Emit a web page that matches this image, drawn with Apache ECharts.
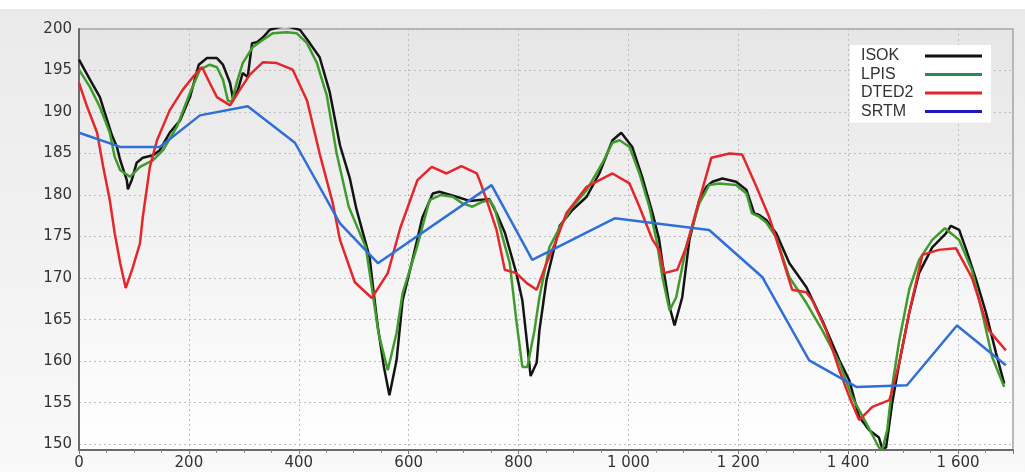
<!DOCTYPE html>
<html>
<head>
<meta charset="utf-8">
<script src="https://cdn.jsdelivr.net/npm/echarts@6/dist/echarts.min.js"></script>
<style>
html, body { margin: 0; padding: 0; }
#wrap {
    width: 1025px; height: 472px;
    background: linear-gradient(#fff 0, #fff 9px, #eaeaea 9px, #f2f2f2 55%, #f9f9f9 100%);
}
#chart { width: 1025px; height: 472px; }
</style>
</head>
<body>
<div id="wrap"><div id="chart"></div></div>
<script>
// profile distance (x) and height (y) per source
let isokX = [0, 20, 38, 60, 69, 75, 87, 89, 96, 105, 116, 135, 147, 165, 184, 202, 218, 233, 251, 262, 275, 280, 289, 298, 307, 315, 324, 335, 347, 375, 402, 420, 438, 456, 475, 493, 505, 529, 535, 544, 555, 565, 578, 589, 607, 625, 644, 656, 687, 711, 729, 747, 760, 775, 796, 807, 815, 822, 833, 838, 851, 875, 898, 924, 947, 971, 987, 1007, 1025, 1044, 1056, 1062, 1075, 1084, 1098, 1111, 1129, 1142, 1153, 1171, 1196, 1215, 1229, 1238, 1251, 1269, 1293, 1324, 1353, 1384, 1402, 1420, 1438, 1456, 1462, 1469, 1480, 1493, 1511, 1529, 1553, 1578, 1587, 1602, 1615, 1633, 1651, 1669, 1684];
let isokY = [196.3, 193.9, 191.8, 187.2, 185.8, 184.2, 181.8, 180.7, 181.8, 183.9, 184.5, 184.8, 185.4, 187.5, 189.0, 191.8, 195.7, 196.5, 196.5, 195.7, 193.5, 191.7, 192.6, 194.7, 194.2, 198.3, 198.4, 199.0, 199.9, 200.4, 199.9, 198.3, 196.6, 192.5, 186, 182, 178.3, 172.5, 169, 164.1, 159.3, 155.9, 160.1, 167.3, 172.2, 177.3, 180.2, 180.4, 179.8, 179.3, 179.4, 179.5, 177.8, 175.5, 170.6, 167.3, 162.5, 158.2, 159.8, 163.7, 169.8, 176.3, 178.2, 179.8, 182.6, 186.6, 187.5, 185.8, 182.2, 177.8, 174.6, 171.8, 166.5, 164.3, 167.7, 174.6, 179.4, 181, 181.6, 182, 181.6, 180.6, 177.8, 177.6, 177, 175.4, 171.8, 168.9, 164.9, 160.1, 157.7, 153.3, 151.7, 150.8, 149.5, 149.6, 154.9, 159.8, 165.8, 170.6, 173.7, 175.4, 176.3, 175.8, 173.4, 169.8, 165.8, 161, 157.3];

let lpisX = [0, 20, 38, 56, 65, 75, 93, 111, 135, 153, 178, 202, 220, 238, 251, 262, 271, 278, 287, 298, 316, 335, 353, 378, 396, 415, 433, 451, 469, 491, 522, 533, 545, 562, 578, 589, 615, 638, 658, 680, 698, 716, 735, 747, 756, 771, 784, 796, 807, 816, 829, 838, 856, 875, 898, 924, 953, 971, 984, 1002, 1020, 1038, 1051, 1062, 1075, 1087, 1105, 1129, 1147, 1165, 1196, 1215, 1225, 1238, 1251, 1269, 1293, 1324, 1353, 1384, 1407, 1433, 1456, 1462, 1471, 1480, 1493, 1511, 1529, 1553, 1576, 1602, 1625, 1644, 1662, 1684];
let lpisY = [195.1, 193, 190.6, 187.5, 184.6, 183, 182.2, 183.4, 184.2, 185.4, 188.2, 192.3, 195.1, 195.7, 195.4, 193.9, 191.4, 191.2, 193.5, 195.9, 197.8, 198.7, 199.5, 199.6, 199.5, 198.3, 195.9, 192, 185, 178.6, 173.7, 168.9, 163.4, 158.9, 163.4, 168.2, 173.7, 179.4, 180, 179.8, 179, 178.6, 179.2, 179.4, 178.5, 174.9, 171.8, 164.9, 159.3, 159.3, 163.7, 167.7, 173.7, 176.1, 178.6, 180.6, 183.9, 186.3, 186.6, 185.8, 182.6, 178.6, 174.6, 170.1, 166.1, 167.7, 173.7, 179, 181.2, 181.4, 181.2, 180.2, 177.8, 177.4, 176.7, 174.9, 170.1, 167, 163.7, 159.8, 155.7, 152.5, 149.6, 149.3, 151.7, 156.9, 162.5, 168.6, 172.2, 174.6, 176, 174.6, 171, 165.8, 160.5, 156.9];

let dtedX = [0, 15, 33, 44, 56, 65, 75, 85, 98, 111, 116, 129, 142, 165, 189, 207, 224, 238, 251, 275, 293, 311, 335, 360, 389, 415, 438, 462, 475, 502, 533, 562, 585, 616, 642, 669, 696, 724, 729, 742, 760, 775, 796, 815, 833, 851, 869, 887, 924, 971, 1002, 1020, 1044, 1056, 1065, 1089, 1105, 1129, 1151, 1184, 1207, 1233, 1256, 1275, 1298, 1324, 1335, 1360, 1384, 1402, 1420, 1444, 1475, 1480, 1493, 1511, 1535, 1565, 1596, 1625, 1656, 1687];
let dtedY = [193.5, 190.6, 187.5, 183.4, 179.4, 175.4, 171.8, 168.8, 171.3, 174.2, 177.3, 183.4, 186.6, 190.2, 192.7, 194.2, 195.4, 193.5, 191.8, 190.8, 192.7, 194.5, 196, 195.9, 195.1, 191.4, 185, 179, 174.6, 169.5, 167.6, 170.6, 176.1, 181.8, 183.4, 182.6, 183.5, 182.6, 181.8, 179.4, 175.8, 171, 170.6, 169.4, 168.6, 171.8, 174.6, 177.8, 181, 182.6, 181.4, 178.6, 174.6, 173.4, 170.6, 171, 173.7, 179.4, 184.5, 185, 184.9, 181, 177.4, 173.5, 168.6, 168.3, 167.3, 163.7, 158.9, 155.7, 152.9, 154.5, 155.3, 156.5, 159.8, 165.8, 172.8, 173.4, 173.6, 170.1, 163.7, 161.3];

let srtmX = [0, 75, 147, 220, 307, 393, 475, 544, 751, 825, 975, 1147, 1244, 1329, 1415, 1507, 1598, 1687];
let srtmY = [187.5, 185.8, 185.8, 189.6, 190.7, 186.3, 176.6, 171.8, 181.2, 172.2, 177.2, 175.8, 170.1, 160.1, 156.9, 157.1, 164.3, 159.5];

let names = ['ISOK', 'LPIS', 'DTED2', 'SRTM'];
let lineColors = ['#141414', '#3f9c2c', '#e5262b', '#2f6fd6'];
let legendColors = ['#111111', '#2a8a52', '#e2242c', '#1a1ac0'];

function pairs (xs, ys) {
    return xs.map((x, i) => [x, ys[i]]);
}

function fmtThousands (v) {
    if (v >= 1000) {
        return Math.floor(v / 1000) + ' ' + String(v % 1000).padStart(3, '0');
    }
    return String(v);
}

let myc = echarts.init(document.getElementById('chart'));
let allData = [pairs(isokX, isokY), pairs(lpisX, lpisY), pairs(dtedX, dtedY), pairs(srtmX, srtmY)];

let options = {
    animation: false,
    grid: {
        left: 79,
        right: 12,
        top: 29,
        bottom: 22,
        show: true,
        borderColor: '#a2a2a2',
        borderWidth: 1.5,
        backgroundColor: new echarts.graphic.LinearGradient(0, 0, 0, 1, [
            {offset: 0, color: '#e6e6e6'},
            {offset: 1, color: '#ffffff'}
        ])
    },
    legend: {
        orient: 'vertical',
        left: 850,
        top: 45,
        align: 'right',
        icon: 'rect',
        itemWidth: 57,
        itemHeight: 3,
        itemGap: 2.5,
        backgroundColor: '#ffffff',
        padding: [3, 9, 3, 11],
        formatter: '{t|{name}}',
        textStyle: {
            fontFamily: 'Liberation Sans',
            fontSize: 16,
            color: '#333',
            lineHeight: 16,
            rich: {
                t: {
                    width: 59,
                    align: 'left',
                    fontFamily: 'Liberation Sans',
                    fontSize: 16,
                    lineHeight: 16,
                    color: '#333'
                }
            }
        },
        data: names.map((n, i) => ({name: n, itemStyle: {color: legendColors[i]}}))
    },
    xAxis: {
        type: 'value',
        min: 0,
        max: 1700,
        interval: 200,
        axisLine: {lineStyle: {color: '#6b6b6b', width: 2}},
        axisTick: {show: true, length: 4, lineStyle: {color: '#777'}},
        minorTick: {show: true, splitNumber: 4, length: 3, lineStyle: {color: '#888'}},
        axisLabel: {
            margin: 6,
            showMaxLabel: false,
            fontFamily: 'DejaVu Sans',
            fontSize: 15,
            color: '#333',
            formatter: fmtThousands
        },
        splitLine: {show: true, lineStyle: {color: '#bdbdbd', type: [2, 3], width: 1}}
    },
    yAxis: {
        type: 'value',
        min: 149.3,
        max: 200,
        splitNumber: 10,
        axisLine: {show: true, lineStyle: {color: '#6b6b6b', width: 2}},
        axisTick: {show: false},
        axisLabel: {
            margin: 7,
            showMinLabel: false,
            fontFamily: 'DejaVu Sans',
            fontSize: 15,
            color: '#333',
            formatter: v => (Math.abs(v % 5) < 1e-6 ? String(v) : '')
        },
        splitLine: {show: true, lineStyle: {color: '#bdbdbd', type: [2, 3], width: 1}}
    },
    series: names.map((n, i) => ({
        name: n,
        type: 'line',
        data: allData[i],
        showSymbol: false,
        symbol: 'none',
        color: lineColors[i],
        lineStyle: {width: 2.5, color: lineColors[i]}
    }))
};
myc.setOption(options);
</script>
</body>
</html>
